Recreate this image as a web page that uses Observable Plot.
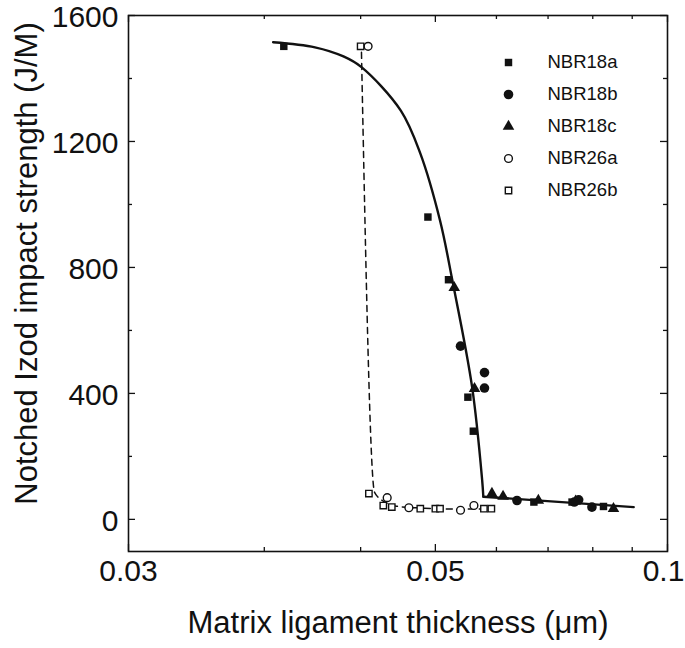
<!DOCTYPE html>
<html><head><meta charset="utf-8">
<script src="https://cdn.jsdelivr.net/npm/d3@7"></script>
<script src="https://cdn.jsdelivr.net/npm/@observablehq/plot@0.6"></script>
<style>
body{margin:0;background:#fff;}
#chart svg{font-family:"Liberation Sans",Arial,sans-serif;}
</style>
</head><body><div id="chart"></div>
<script>
// ---- data ----
const seriesNames = ["NBR18a", "NBR18b", "NBR18c", "NBR26a", "NBR26b"];

const nbr18aX = [0.0318, 0.0489, 0.0520, 0.0551, 0.0560, 0.0671, 0.0752, 0.0826];
const nbr18aY = [1502, 960, 761, 388, 280, 55, 55, 41];

const nbr18bX = [0.0539, 0.0579, 0.0579, 0.0638, 0.0757, 0.0767, 0.0798];
const nbr18bY = [550, 466, 417, 60, 55, 62, 39];

const nbr18cX = [0.0529, 0.0562, 0.0592, 0.0612, 0.0680, 0.0760, 0.0851];
const nbr18cY = [736, 415, 82, 73, 60, 58, 34];

const nbr26aX = [0.0409, 0.0433, 0.0462, 0.0539, 0.0561];
const nbr26aY = [1502, 69, 37, 29, 44];

const nbr26bX = [0.0400, 0.0410, 0.0428, 0.0439, 0.0478, 0.0500, 0.0507, 0.0578, 0.0591];
const nbr26bY = [1502, 82, 44, 39, 34, 34, 34, 34, 34];

// fitted curve for NBR18 (upper smooth branch + lower straight branch)
const fit18UpperX = [0.0308, 0.0349, 0.0380, 0.0401, 0.0451, 0.0478, 0.0507, 0.0526, 0.0558, 0.0575, 0.0577];
const fit18UpperY = [1515, 1499, 1470, 1436, 1298, 1162, 949, 759, 420, 124, 72];
const fit18LowerX = [0.0577, 0.0904];
const fit18LowerY = [72, 39];

// dashed curve for NBR26
const fit26X = [0.0401, 0.0417, 0.0430, 0.0445, 0.0480, 0.0520, 0.0560, 0.0590];
const fit26Y = [1483, 86, 55, 42, 36, 33, 33, 32];

// ticks
const xTickValues = [0.02, 0.05, 0.1];
const xTickLabels = ["0.03", "0.05", "0.1"];
const xMinorTicks = [0.03, 0.04, 0.06, 0.07, 0.08, 0.09];
const yTickValues = [0, 400, 800, 1200, 1600];
const yMinorTicks = [200, 600, 1000, 1400];

const xTitle = "Matrix ligament thickness (\u03bcm)";
const yTitle = "Notched Izod impact strength (J/M)";

// ---- layout ----
const W = 685, H = 648, mL = 128, mR = 18, mT = 15, mB = 97;
const innerW = W - mL - mR, innerH = H - mT - mB;
const ink = "#111";

const pts = (xs, ys) => xs.map((x, i) => ({x, y: ys[i]}));
const xLabel = d => xTickLabels[xTickValues.indexOf(d)];

const styles = [
  {symbol: "square", fill: ink, stroke: "none", r: 4.2},
  {symbol: "circle", fill: ink, stroke: "none", r: 4.8},
  {symbol: "triangle", fill: ink, stroke: "none", r: 4.3},
  {symbol: "circle", fill: "white", stroke: ink, strokeWidth: 1.4, r: 3.9},
  {symbol: "square", fill: "white", stroke: ink, strokeWidth: 1.4, r: 3.6}
];
const seriesData = [
  pts(nbr18aX, nbr18aY), pts(nbr18bX, nbr18bY), pts(nbr18cX, nbr18cY),
  pts(nbr26aX, nbr26aY), pts(nbr26bX, nbr26bY)
];

const majT = 7, minT = 4;
const lastX = xTickValues[xTickValues.length - 1];
const marks = [
  Plot.frame({stroke: ink, strokeWidth: 1.6}),
  // x ticks (inward, bottom & top)
  Plot.tickX(xTickValues, {x: d => d, insetTop: innerH - majT, stroke: ink, strokeWidth: 1.3}),
  Plot.tickX(xTickValues, {x: d => d, insetBottom: innerH - majT, stroke: ink, strokeWidth: 1.3}),
  Plot.tickX(xMinorTicks, {x: d => d, insetTop: innerH - minT, stroke: ink, strokeWidth: 1.3}),
  Plot.tickX(xMinorTicks, {x: d => d, insetBottom: innerH - minT, stroke: ink, strokeWidth: 1.3}),
  // y ticks (inward, left & right)
  Plot.tickY(yTickValues, {y: d => d, insetRight: innerW - majT, stroke: ink, strokeWidth: 1.3}),
  Plot.tickY(yTickValues, {y: d => d, insetLeft: innerW - majT, stroke: ink, strokeWidth: 1.3}),
  Plot.tickY(yMinorTicks, {y: d => d, insetRight: innerW - minT, stroke: ink, strokeWidth: 1.3}),
  Plot.tickY(yMinorTicks, {y: d => d, insetLeft: innerW - minT, stroke: ink, strokeWidth: 1.3}),
  // tick labels
  Plot.axisY(yTickValues, {anchor: "left", tickSize: 0, tickPadding: 10, fontSize: 30, label: null, color: ink,
    dy: 2, tickFormat: d => String(d)}),
  Plot.axisX(xTickValues.filter(d => d !== lastX), {anchor: "bottom", tickSize: 0, tickPadding: 8, fontSize: 30, label: null, color: ink,
    tickFormat: xLabel}),
  Plot.axisX([lastX], {anchor: "bottom", tickSize: 0, tickPadding: 8, fontSize: 30, label: null, color: ink,
    dx: -4, tickFormat: xLabel}),
  // titles
  Plot.text([xTitle], {frameAnchor: "bottom", dy: 72, fontSize: 31, fill: ink, textAnchor: "middle", lineAnchor: "middle"}),
  Plot.text([yTitle], {frameAnchor: "left", rotate: -90, dx: -101, dy: -20, fontSize: 31, fill: ink, textAnchor: "middle", lineAnchor: "middle"}),
  // fitted curves
  Plot.line(pts(fit26X, fit26Y), {x: "x", y: "y", stroke: ink, strokeWidth: 1.5, strokeDasharray: "6,5", curve: "monotone-x"}),
  Plot.line(pts(fit18UpperX, fit18UpperY), {x: "x", y: "y", stroke: ink, strokeWidth: 2.4, curve: "catmull-rom"}),
  Plot.line(pts(fit18LowerX, fit18LowerY), {x: "x", y: "y", stroke: ink, strokeWidth: 2.4})
];

seriesData.forEach((d, i) => {
  marks.push(Plot.dot(d, {x: "x", y: "y", ...styles[i]}));
});

// legend
seriesNames.forEach((name, i) => {
  marks.push(Plot.dot([name], {frameAnchor: "top-left", dx: 380, dy: 47 + 32 * i, ...styles[i]}));
  marks.push(Plot.text([name], {frameAnchor: "top-left", dx: 419, dy: 47 + 32 * i, textAnchor: "start", lineAnchor: "middle", fontSize: 18.5, fill: ink}));
});

const chart = Plot.plot({
  width: W, height: H,
  marginLeft: mL, marginRight: mR, marginTop: mT, marginBottom: mB,
  style: {fontFamily: "Liberation Sans, Arial, sans-serif", background: "white", color: ink},
  x: {type: "log", domain: [0.02, 0.1]},
  y: {domain: [-102, 1600]},
  marks
});
document.getElementById("chart").appendChild(chart);
</script>
</body></html>
